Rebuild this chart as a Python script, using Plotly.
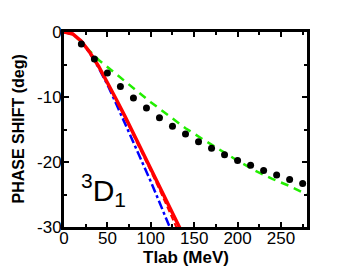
import plotly.graph_objects as go

# Data
tlab_exp = [20, 35, 50, 65, 80, 95, 110, 125, 140, 155, 170, 185, 200, 215, 230, 245, 260, 275]
delta_exp = [-1.85, -4.15, -6.3, -8.4, -10.15, -11.7, -13.2, -14.5, -15.7, -16.9,
             -17.9, -18.9, -19.75, -20.5, -21.3, -22.0, -22.7, -23.3]

tlab_green = [0, 10, 20, 30, 40, 50, 60, 70, 80, 90, 100, 120, 140, 160, 180, 200, 220, 240, 260, 280]
delta_green = [0, -0.35, -1.5, -3.0, -4.3, -5.4, -6.5, -7.6, -8.6, -9.7, -10.8,
               -12.8, -14.8, -16.5, -18.2, -19.8, -21.3, -22.6, -23.7, -25.0]

tlab_red = [0, 10, 20, 30, 40, 50, 60, 70, 80, 90, 100, 110, 120, 130, 134]
delta_red = [0, -0.3, -1.4, -3.2, -5.3, -7.7, -10.3, -12.9, -15.6, -18.3, -21.0,
             -23.7, -26.5, -29.2, -30.3]

tlab_red2 = [0, 10, 20, 30, 40, 50, 60, 70, 80, 90, 100, 110, 120, 130]
delta_red2 = [0, -0.3, -1.4, -3.2, -5.3, -7.8, -10.4, -13.1, -15.8, -18.6, -21.4,
              -24.2, -27.2, -30.2]

tlab_blue = [0, 10, 20, 30, 40, 50, 60, 70, 80, 90, 100, 110, 120, 123]
delta_blue = [0, -0.3, -1.4, -3.3, -5.5, -8.1, -11.0, -14.0, -16.9, -19.9, -23.0,
              -26.2, -29.4, -30.4]

x_ticks = [0, 50, 100, 150, 200, 250]
x_tick_labels = ["0", "50", "100", "150", "200", "250"]
y_ticks = [0, -10, -20, -30]
y_tick_labels = ["0", "-10", "-20", "-30"]

FONT = "Liberation Sans, Arial, sans-serif"

fig = go.Figure()
fig.add_trace(go.Scatter(x=tlab_green, y=delta_green, mode="lines",
                         line=dict(color="#22ee00", width=2.5, dash="8px,6px"),
                         showlegend=False))
fig.add_trace(go.Scatter(x=tlab_blue, y=delta_blue, mode="lines",
                         line=dict(color="#0000ff", width=2.5, dash="dashdot"),
                         showlegend=False))
fig.add_trace(go.Scatter(x=tlab_red2, y=delta_red2, mode="lines",
                         line=dict(color="#ff0000", width=2, dash="6px,3px"),
                         showlegend=False))
fig.add_trace(go.Scatter(x=tlab_red, y=delta_red, mode="lines",
                         line=dict(color="#ff0000", width=3.5),
                         showlegend=False))
fig.add_trace(go.Scatter(x=tlab_exp, y=delta_exp, mode="markers",
                         marker=dict(color="black", size=7),
                         showlegend=False))

axis_common = dict(
    showline=True, linecolor="black", linewidth=3, mirror="ticks",
    ticks="inside", ticklen=5, tickwidth=2, tickcolor="black",
    showgrid=False, zeroline=False, automargin=False,
    tickfont=dict(family=FONT, size=17, color="black"),
)

fig.update_xaxes(range=[0, 280], tickvals=x_ticks, ticktext=x_tick_labels,
                 ticklabelstandoff=-6,
                 minor=dict(tickvals=[25, 75, 125, 175, 225, 275], ticks="inside",
                            ticklen=3, tickwidth=2, tickcolor="black"),
                 **axis_common)
fig.update_yaxes(range=[-30, 0], tickvals=y_ticks, ticktext=y_tick_labels,
                 ticklabelstandoff=-4,
                 minor=dict(tickvals=[-5, -15, -25], ticks="inside",
                            ticklen=3, tickwidth=2, tickcolor="black"),
                 **axis_common)

# axis titles
fig.add_annotation(x=0.5, y=0, xref="paper", yref="paper", xanchor="center", yanchor="middle",
                   yshift=-30, text="<b>Tlab (MeV)</b>", showarrow=False,
                   font=dict(family=FONT, size=17, color="black"))
fig.add_annotation(x=0, y=0.5, xref="paper", yref="paper", xanchor="center", yanchor="middle",
                   xshift=-46, textangle=-90, text="<b>PHASE SHIFT (deg)</b>", showarrow=False,
                   font=dict(family=FONT, size=16, color="black"))

fig.add_annotation(x=17, y=-24.3, xref="x", yref="y", xanchor="left", yanchor="middle",
                   text="<sup>3</sup>D<sub>1</sub>", showarrow=False,
                   font=dict(family=FONT, size=30, color="black"))

# page body adds an 8px offset; compensate in size and margins
fig.update_layout(
    width=349, height=265,
    margin=dict(l=56, r=50, t=24, b=46),
    paper_bgcolor="white", plot_bgcolor="white",
)

fig.write_html("out.html")
